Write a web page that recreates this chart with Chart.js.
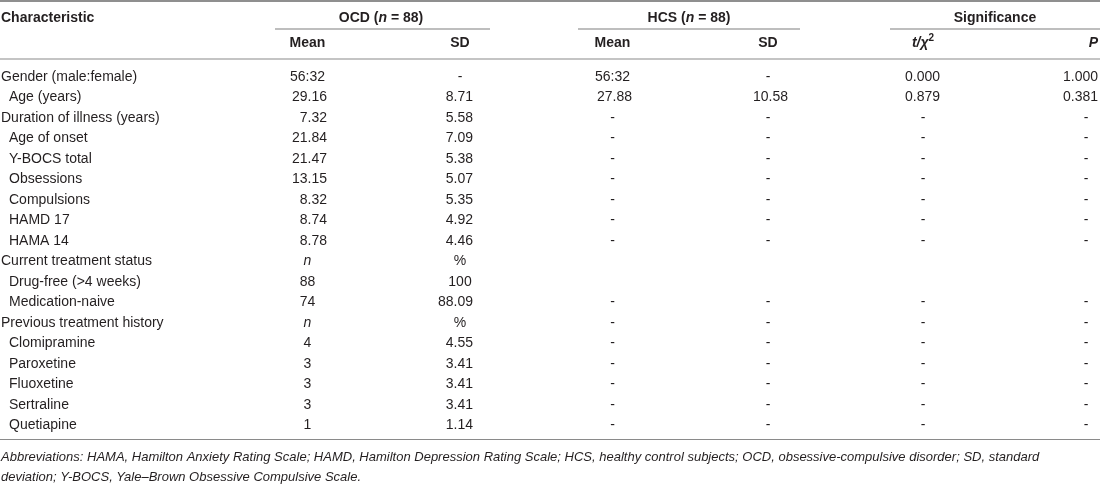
<!DOCTYPE html>
<html><head><meta charset="utf-8">
<script src="https://cdn.jsdelivr.net/npm/chart.js@4"></script>
<style>html,body{margin:0;padding:0;background:#fff;overflow:hidden}canvas{display:block}</style>
</head><body>
<canvas id="c" width="1100" height="486"></canvas>
<script>
// ---------- DATA ----------
const characteristics = [
  "Gender (male:female)", "Age (years)", "Duration of illness (years)", "Age of onset",
  "Y-BOCS total", "Obsessions", "Compulsions", "HAMD 17", "HAMA 14",
  "Current treatment status", "Drug-free (>4 weeks)", "Medication-naive",
  "Previous treatment history", "Clomipramine", "Paroxetine", "Fluoxetine",
  "Sertraline", "Quetiapine"
];
const indented = [false,true,false,true,true,true,true,true,true,false,true,true,false,true,true,true,true,true];
const ocdMean = ["56:32","29.16","7.32","21.84","21.47","13.15","8.32","8.74","8.78","n","88","74","n","4","3","3","3","1"];
const ocdSD   = ["-","8.71","5.58","7.09","5.38","5.07","5.35","4.92","4.46","%","100","88.09","%","4.55","3.41","3.41","3.41","1.14"];
const hcsMean = ["56:32","27.88","-","-","-","-","-","-","-","","","-","-","-","-","-","-","-"];
const hcsSD   = ["-","10.58","-","-","-","-","-","-","-","","","-","-","-","-","-","-","-"];
const tStat   = ["0.000","0.879","-","-","-","-","-","-","-","","","-","-","-","-","-","-","-"];
const pValue  = ["1.000","0.381","-","-","-","-","-","-","-","","","-","-","-","-","-","-","-"];
const footnoteLines = [
  "Abbreviations: HAMA, Hamilton Anxiety Rating Scale; HAMD, Hamilton Depression Rating Scale; HCS, healthy control subjects; OCD, obsessive-compulsive disorder; SD, standard",
  "deviation; Y-BOCS, Yale\u2013Brown Obsessive Compulsive Scale."
];

// ---------- LAYOUT / STYLE ----------
const FONT = '"Liberation Sans", Arial, sans-serif';
const TXT = '#231f20';
const columns = [
  {data: ocdMean, center: 307.5, right: 327, head: 'Mean'},
  {data: ocdSD,   center: 460,   right: 473, head: 'SD'},
  {data: hcsMean, center: 612.5, right: 632, head: 'Mean'},
  {data: hcsSD,   center: 768,   right: 788, head: 'SD'},
  {data: tStat,   center: 923,   right: 940, head: 't/chi'},
  {data: pValue,  center: 1086,  right: 1098, head: 'P'}
];
const groups = [
  {label: 'OCD', center: 381, x0: 275, x1: 490},
  {label: 'HCS', center: 689, x0: 578, x1: 800},
  {label: 'Significance', center: 995, x0: 890, x1: 1100}
];
const L = {topLine: 1, groupY: 18, groupLineY: 29, subY: 43, headLine: 59, bottomGap: 14, footY: [457, 477]};

function runsWidth(ctx, runs){ let w=0; runs.forEach(r=>{ctx.font=r.font; w+=ctx.measureText(r.t).width;}); return w; }
function drawRuns(ctx, runs, x, y, align){
  const w = runsWidth(ctx, runs);
  let cx = align==='center' ? x - w/2 : (align==='right' ? x - w : x);
  runs.forEach(r=>{ ctx.font=r.font; ctx.textAlign='left'; ctx.fillText(r.t, cx, y + (r.dy||0)); cx += ctx.measureText(r.t).width; });
}
function hline(ctx, x0, x1, y, color, w){
  ctx.beginPath(); ctx.strokeStyle=color; ctx.lineWidth=w; ctx.moveTo(x0,y); ctx.lineTo(x1,y); ctx.stroke();
}

const B = 'bold 14px ' + FONT, BI = 'italic bold 14px ' + FONT, R = '14px ' + FONT, RI = 'italic 14px ' + FONT;

const tablePlugin = {
  id: 'table',
  afterDraw(chart){
    const ctx = chart.ctx, xs = chart.scales.x, ys = chart.scales.y;
    const W = chart.width;
    ctx.save();
    ctx.fillStyle = TXT; ctx.textBaseline = 'middle';
    // rules
    hline(ctx, 0, W, L.topLine, '#6a6a6a', 1.5);
    groups.forEach(g=>hline(ctx, xs.getPixelForValue(g.x0), xs.getPixelForValue(g.x1), L.groupLineY, '#a8a8a8', 1.5));
    hline(ctx, 0, W, L.headLine, '#8a8a8a', 1.2);
    const lastY = ys.getPixelForValue(characteristics.length-1);
    hline(ctx, 0, W, lastY + L.bottomGap, '#8a8a8a', 1.2);
    // headers
    ctx.fillStyle = TXT;
    drawRuns(ctx, [{t:'Characteristic', font:B}], 1, L.groupY, 'left');
    drawRuns(ctx, [{t:'OCD (',font:B},{t:'n',font:BI},{t:' = 88)',font:B}], xs.getPixelForValue(groups[0].center), L.groupY, 'center');
    drawRuns(ctx, [{t:'HCS (',font:B},{t:'n',font:BI},{t:' = 88)',font:B}], xs.getPixelForValue(groups[1].center), L.groupY, 'center');
    drawRuns(ctx, [{t:'Significance',font:B}], xs.getPixelForValue(groups[2].center), L.groupY, 'center');
    columns.forEach(c=>{
      const x = xs.getPixelForValue(c.center);
      if (c.head==='t/chi') drawRuns(ctx, [{t:'t/\u03c7',font:BI},{t:'2',font:'bold 10px '+FONT, dy:-5}], x, L.subY, 'center');
      else if (c.head==='P') drawRuns(ctx, [{t:'P',font:BI}], xs.getPixelForValue(c.right), L.subY, 'right');
      else drawRuns(ctx, [{t:c.head,font:B}], x, L.subY, 'center');
    });
    // body
    characteristics.forEach((name,i)=>{
      const y = ys.getPixelForValue(i);
      ctx.font = R; ctx.textAlign='left';
      ctx.fillText(name, indented[i] ? 9 : 1, y);
      columns.forEach(c=>{
        const v = c.data[i]; if (!v) return;
        ctx.font = (v==='n') ? RI : R;
        if (/^\d+\.\d+$/.test(v)) { ctx.textAlign='right'; ctx.fillText(v, xs.getPixelForValue(c.right), y); }
        else { ctx.textAlign='center'; ctx.fillText(v, xs.getPixelForValue(c.center), y); }
      });
    });
    // footnote
    ctx.font = 'italic 13px ' + FONT; ctx.textAlign='left';
    footnoteLines.forEach((t,k)=>ctx.fillText(t, 1, L.footY[k]));
    ctx.restore();
  }
};

new Chart(document.getElementById('c'), {
  type: 'scatter',
  data: { labels: characteristics, datasets: [{data: [], pointRadius: 0}] },
  options: {
    responsive: false, animation: false, devicePixelRatio: 1,
    layout: { padding: { top: 66.75, bottom: 486 - 435.75, left: 0, right: 0 } },
    plugins: { legend: {display:false}, tooltip: {enabled:false} },
    scales: {
      x: { type: 'linear', min: 0, max: 1100, display: false },
      y: { type: 'category', labels: characteristics, offset: true, display: false }
    }
  },
  plugins: [tablePlugin]
});
</script>
</body></html>
